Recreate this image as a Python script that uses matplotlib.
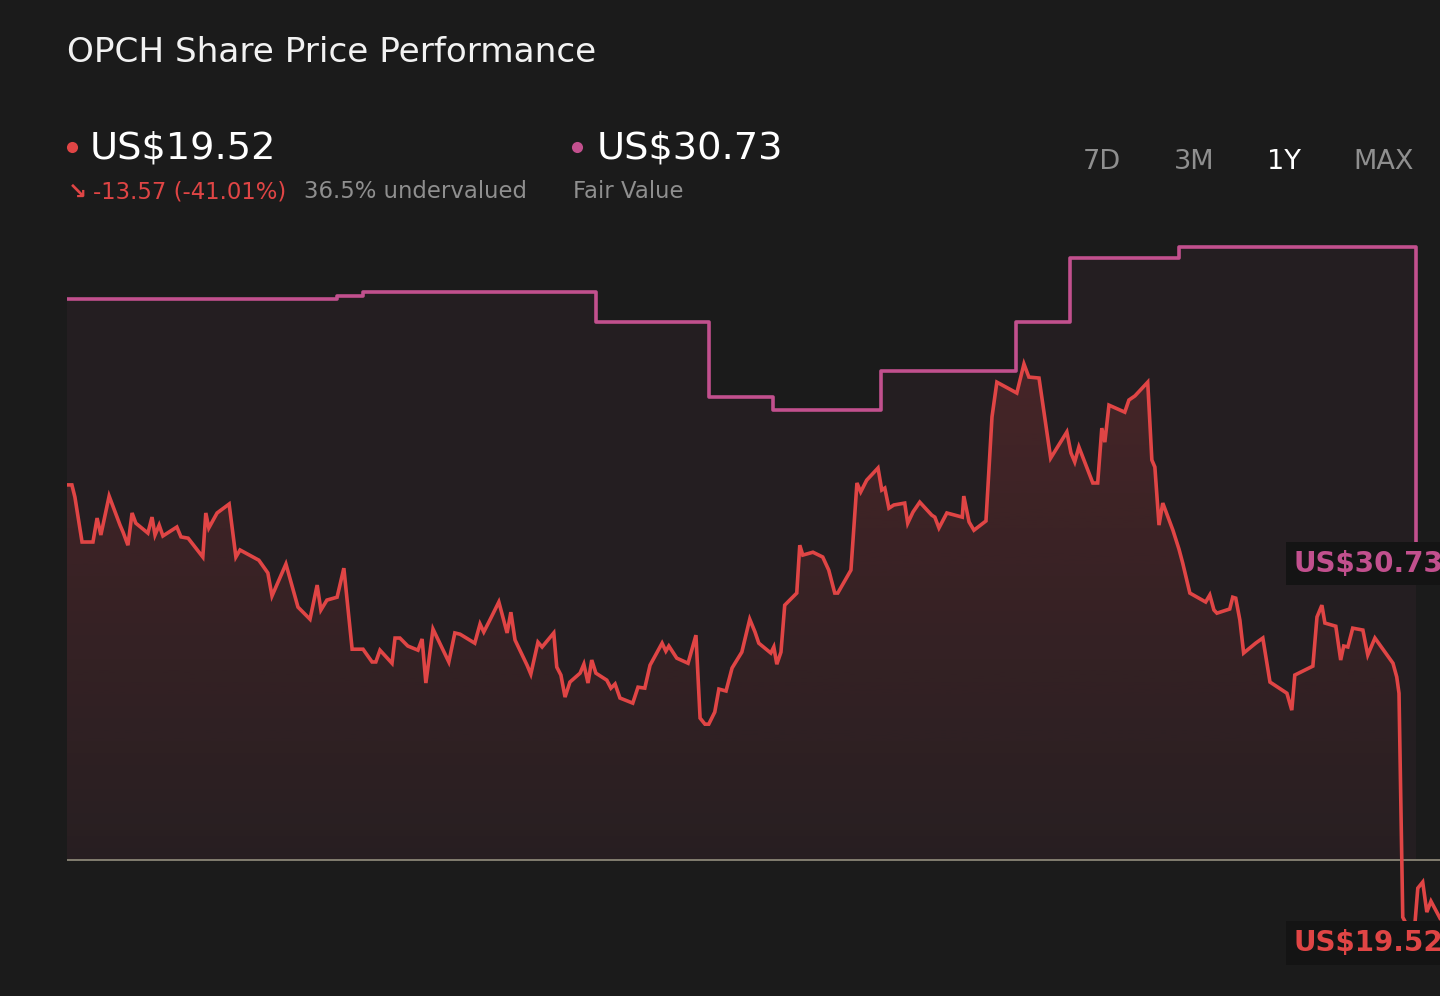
import numpy as np
import matplotlib
matplotlib.use("Agg")
import matplotlib.pyplot as plt
from matplotlib.lines import Line2D

# ---- data (days since start of the 1Y window) ----
price_days = [0.0, 1.3, 2.1, 4.0, 6.9, 8.0, 9.0, 11.2, 14.1, 14.9, 16.2, 17.3, 18.3, 21.5, 22.6,
              23.4, 24.5, 25.5, 29.2, 30.3, 32.2, 36.1, 36.9, 37.7, 39.9, 43.1, 44.9, 46.0, 51.0,
              53.4, 54.5, 58.2, 61.4, 64.6, 66.5, 67.5, 69.1, 71.8, 73.6, 75.8, 78.7, 81.1, 82.1,
              83.2, 86.4, 87.2, 88.5, 90.6, 93.3, 94.4, 95.4, 97.3, 101.5, 103.1, 104.5, 108.4,
              109.8, 110.8, 112.4, 114.8, 117.0, 118.0, 119.1, 122.3, 123.3, 125.2, 126.3, 129.4,
              130.2, 131.3, 132.4, 133.7, 136.4, 137.4, 138.5, 139.5, 140.6, 143.5, 144.6, 145.7,
              147.0, 150.4, 151.8, 153.6, 155.0, 158.2, 159.2, 160.0, 162.1, 165.1, 167.2, 168.3,
              169.6, 170.6, 172.2, 173.3, 175.2, 176.8, 179.4, 181.5, 182.9, 183.9, 187.1, 187.9,
              188.7, 189.8, 190.8, 194.0, 194.8, 195.6, 198.3, 200.9, 202.5, 204.1, 204.9, 208.4,
              210.0, 211.0, 212.6, 215.6, 216.6, 217.4, 218.5, 219.8, 222.7, 223.5, 224.9, 226.7,
              229.9, 230.7, 231.8, 233.9, 238.0, 238.4, 239.8, 241.1, 244.3, 245.9, 247.2, 252.5,
              254.4, 255.7, 258.4, 261.5, 265.8, 266.9, 267.9, 269.0, 272.7, 274.0, 275.1, 275.9,
              277.0, 281.2, 282.3, 283.9, 287.3, 288.4, 289.2, 290.3, 291.3, 294.0, 295.6, 296.6,
              298.5, 302.7, 303.8, 304.9, 305.7, 309.1, 309.9, 310.7, 311.8, 312.8, 316.0, 317.9,
              319.8, 324.3, 325.6, 326.4, 331.2, 332.3, 333.6, 334.4, 337.3, 338.6, 339.4, 340.5,
              341.8, 344.5, 345.8, 347.7, 352.5, 353.5, 354.1, 355.1, 356.2, 358.3, 359.1, 360.4,
              361.5, 362.6, 365.0]
price = [33.10, 33.10, 32.72, 31.31, 31.31, 32.06, 31.53, 32.75, 31.84, 31.62, 31.21, 32.22, 31.90,
         31.59, 32.09, 31.53, 31.84, 31.50, 31.78, 31.47, 31.43, 30.84, 32.22, 31.75, 32.22, 32.50,
         30.84, 31.06, 30.74, 30.34, 29.62, 30.62, 29.27, 28.89, 29.96, 29.18, 29.49, 29.58, 30.49,
         27.95, 27.95, 27.55, 27.55, 27.92, 27.51, 28.30, 28.30, 28.05, 27.92, 28.27, 26.89, 28.58,
         27.55, 28.46, 28.42, 28.14, 28.74, 28.49, 28.86, 29.43, 28.46, 29.11, 28.24, 27.45, 27.17,
         28.17, 28.02, 28.46, 27.39, 27.14, 26.45, 26.92, 27.20, 27.48, 26.89, 27.61, 27.20, 26.98,
         26.73, 26.86, 26.42, 26.26, 26.76, 26.73, 27.45, 28.14, 27.89, 28.05, 27.67, 27.51, 28.39,
         25.79, 25.60, 25.60, 25.98, 26.70, 26.64, 27.36, 27.86, 28.89, 28.49, 28.14, 27.83, 28.02,
         27.48, 27.86, 29.33, 29.71, 31.21, 30.90, 30.99, 30.84, 30.43, 29.71, 29.71, 30.43, 33.16,
         32.88, 33.25, 33.63, 32.94, 33.00, 32.37, 32.47, 32.53, 31.90, 32.25, 32.56, 32.15, 32.09,
         31.75, 32.22, 32.09, 32.75, 31.94, 31.68, 31.97, 35.23, 36.32, 35.98, 36.89, 36.48, 36.45,
         33.94, 34.76, 34.10, 33.82, 34.29, 33.16, 33.16, 34.88, 34.44, 35.60, 35.38, 35.76, 35.89,
         36.32, 33.88, 33.66, 31.84, 32.53, 31.68, 31.09, 30.65, 29.71, 29.43, 29.65, 29.18, 29.08,
         29.21, 29.58, 29.55, 28.86, 27.83, 28.14, 28.30, 26.92, 26.57, 26.04, 27.14, 27.42, 28.96,
         29.33, 28.77, 28.67, 27.61, 28.05, 28.02, 28.61, 28.55, 27.77, 28.30, 27.51, 27.08, 26.57,
         19.55, 19.30, 19.30, 20.46, 20.65, 19.71, 20.05, 19.52]

fv_days = [0.0, 71.8, 78.7, 140.6, 170.6, 187.7, 216.4, 252.2, 266.6, 295.6, 358.6]
fair_value = [38.93, 39.02, 39.15, 38.21, 35.85, 35.45, 36.67, 38.21, 40.21, 40.56, 30.73]

baseline = 21.34
last_price = 19.52
last_fv = 30.73

BG = "#1b1b1b"
RED = "#e04545"
PINK = "#c2508e"

fig = plt.figure(figsize=(14.4, 9.96), dpi=100, facecolor=BG)
ax = fig.add_axes([67 / 1440, 0, 1373 / 1440, (996 - 215) / 996])
ax.set_facecolor(BG)
ax.set_xlim(0, 365)
ax.set_ylim(17.08, 41.56)
ax.axis("off")

# fair value area + line
ax.fill_between(fv_days, fair_value, baseline, step="post", color=PINK, alpha=0.06, lw=0)
ax.plot(fv_days, fair_value, drawstyle="steps-post", color=PINK, lw=2.6, zorder=4)

# price area with vertical gradient
pfill = ax.fill_between(price_days, price, baseline, where=np.array(price) >= baseline,
                        interpolate=True, facecolor="none", lw=0)
grad = np.zeros((256, 1, 4))
grad[:, 0, 0] = 224 / 255
grad[:, 0, 1] = 69 / 255
grad[:, 0, 2] = 69 / 255
grad[:, 0, 3] = np.linspace(0.19, 0.02, 256)
img = ax.imshow(grad, extent=[0, 365, baseline, 37.5], aspect="auto", zorder=2, origin="upper")
for p in pfill.get_paths()[:1]:
    img.set_clip_path(p, transform=ax.transData)

ax.axhline(baseline, color="#8a8676", lw=1.3, zorder=3)
ax.plot(price_days, price, color=RED, lw=2.6, zorder=5, solid_joinstyle="miter")

# end labels
ax.annotate("US$30.73", xy=(fv_days[-1], last_fv), xytext=(-122, -3), textcoords="offset pixels",
            color=PINK, fontsize=20, fontweight="bold", va="center", ha="left", zorder=6,
            bbox=dict(boxstyle="square,pad=0.28", fc="#141414", ec="none"), annotation_clip=False)
ax.annotate("US$19.52", xy=(365, last_price), xytext=(-146, -25), textcoords="offset pixels",
            color=RED, fontsize=20, fontweight="bold", va="center", ha="left", zorder=6,
            bbox=dict(boxstyle="square,pad=0.28", fc="#141414", ec="none"), annotation_clip=False)

# header
def fy(y):
    return 1 - y / 996

fig.text(67 / 1440, fy(53), "OPCH Share Price Performance", color="#f2f2f2", fontsize=24.7, va="center")

fig.add_artist(Line2D([72 / 1440], [fy(147)], marker="o", ms=8, color=RED, mec="none",
                      transform=fig.transFigure))
fig.add_artist(Line2D([577 / 1440], [fy(147)], marker="o", ms=8, color=PINK, mec="none",
                      transform=fig.transFigure))
fig.text(90 / 1440, fy(148), "US$19.52", color="#ffffff", fontsize=27.6, va="center")
fig.text(597 / 1440, fy(148), "US$30.73", color="#ffffff", fontsize=27.6, va="center")
fig.text(68 / 1440, fy(192), "\u2198", color=RED, fontsize=16.4, va="center", fontweight="bold")
fig.text(93 / 1440, fy(192), "-13.57 (-41.01%)", color=RED, fontsize=16.4, va="center")
fig.text(304 / 1440, fy(192), "36.5% undervalued", color="#8f8f8f", fontsize=16.4, va="center")
fig.text(573 / 1440, fy(192), "Fair Value", color="#8f8f8f", fontsize=16.4, va="center")

for label, xc in zip(["7D", "3M", "1Y", "MAX"], [1102, 1194, 1284, 1384]):
    fig.text(xc / 1440, fy(162), label, color="#ffffff" if label == "1Y" else "#8f8f8f",
             fontsize=19.5, va="center", ha="center")

fig.savefig("out.png", dpi=100, facecolor=BG)
